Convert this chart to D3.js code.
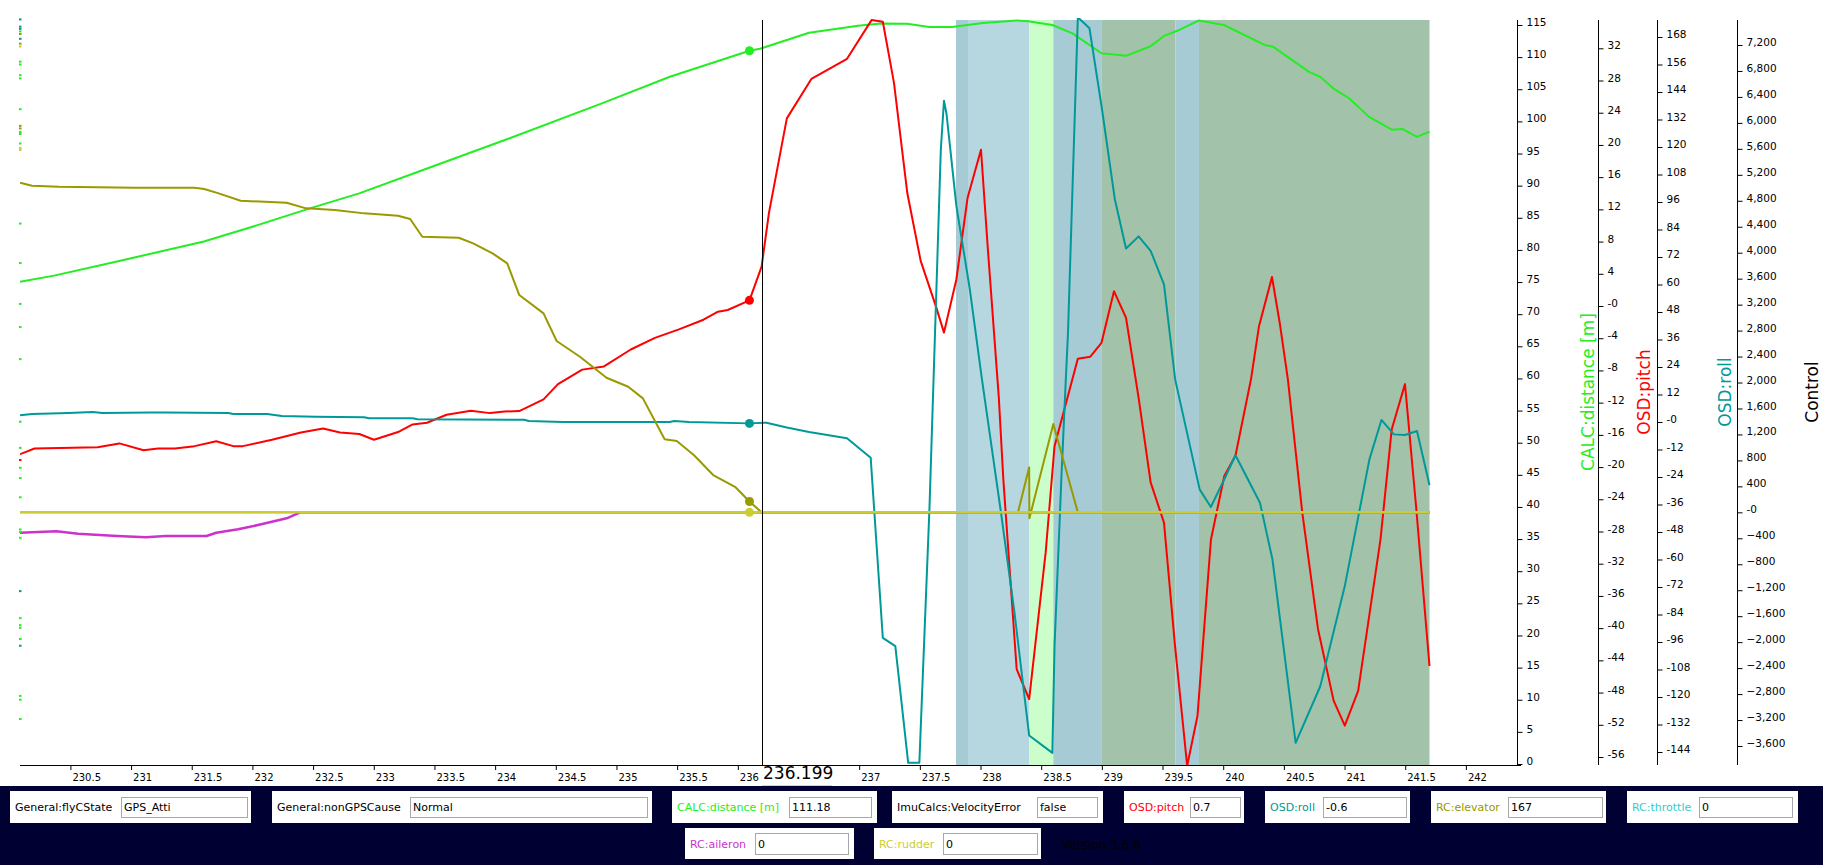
<!DOCTYPE html>
<html><head><meta charset="utf-8">
<script src="https://cdn.jsdelivr.net/npm/d3@7"></script>
<style>body{margin:0;background:#fff;overflow:hidden}svg{display:block}</style>
</head><body>
<svg id="c" width="1823" height="865"></svg>
<script>
// ---------------- DATA ----------------
const xTicks = [230.5,231,231.5,232,232.5,233,233.5,234,234.5,235,235.5,236,236.5,237,237.5,238,238.5,239,239.5,240,240.5,241,241.5,242];
const distTicks = [0,5,10,15,20,25,30,35,40,45,50,55,60,65,70,75,80,85,90,95,100,105,110,115];
const pitchTicks = [32,28,24,20,16,12,8,4,0,-4,-8,-12,-16,-20,-24,-28,-32,-36,-40,-44,-48,-52,-56];
const rollTicks = [168,156,144,132,120,108,96,84,72,60,48,36,24,12,0,-12,-24,-36,-48,-60,-72,-84,-96,-108,-120,-132,-144];
const ctrlTicks = [7200,6800,6400,6000,5600,5200,4800,4400,4000,3600,3200,2800,2400,2000,1600,1200,800,400,0,-400,-800,-1200,-1600,-2000,-2400,-2800,-3200,-3600];

const cursorTime = 236.199;
const sampleTime = 236.096;

// flight-state bands
const bandStart = [237.798,237.897,238.40,238.60,239.0,239.607,239.80];
const bandEnd   = [237.897,238.40,238.60,239.0,239.607,239.80,241.70];
const bandColor = ["#a6cbd5","#b6d7df","#ccfecc","#a6cbd5","#a2c3aa","#a6cbd5","#a2c3aa"];

// CALC:distance [m]
const distTime = [230.085,230.365,230.884,231.60,232.0,232.48,232.88,233.40,234.08,234.88,235.44,236.096,236.183,236.587,236.991,237.176,237.394,237.58,237.765,238.02,238.298,238.391,238.592,238.758,238.997,239.199,239.402,239.512,239.622,239.799,240.006,240.34,240.413,240.707,240.798,240.909,241.037,241.202,241.389,241.48,241.597,241.70];
const distValue = [75.05,76.0,78.2,81.3,83.6,86.5,88.8,92.4,97.1,102.8,106.95,111.0,111.3,113.8,114.9,115.25,115.2,114.7,114.7,115.3,115.7,115.6,115.0,113.7,110.6,110.2,111.7,113.3,114.1,115.7,115.0,111.9,111.6,107.7,106.95,105.1,103.6,100.7,98.7,98.8,97.6,98.4];

// OSD:pitch
const pitchTime = [230.085,230.204,230.724,230.904,231.103,231.222,231.362,231.523,231.702,231.842,231.922,232.161,232.40,232.582,232.722,232.881,233.002,233.20,233.32,233.439,233.60,233.80,233.958,234.079,234.199,234.399,234.518,234.718,234.897,235.118,235.317,235.515,235.717,235.837,235.917,236.096,236.196,236.257,236.404,236.606,236.735,236.90,237.102,237.195,237.287,237.397,237.507,237.636,237.699,237.801,237.893,238.004,238.059,238.151,238.188,238.298,238.401,238.537,238.61,238.802,238.905,238.997,239.10,239.199,239.303,239.402,239.512,239.603,239.703,239.788,239.899,240.009,240.101,240.229,240.295,240.402,240.468,240.533,240.652,240.781,240.91,241.002,241.112,241.296,241.389,241.498,241.589,241.70];
const pitchValue = [-18.4,-17.7,-17.55,-17.06,-17.9,-17.7,-17.7,-17.4,-16.8,-17.4,-17.4,-16.6,-15.7,-15.2,-15.7,-15.9,-16.6,-15.65,-14.7,-14.5,-13.5,-13.0,-13.3,-13.1,-13.05,-11.6,-9.7,-7.9,-7.5,-5.4,-3.95,-2.9,-1.7,-0.7,-0.5,0.7,4.9,11.6,23.3,28.2,29.3,30.7,35.5,35.3,27.7,14.0,5.6,-0.2,-3.3,3.3,13.4,19.4,7.4,-11.4,-21.5,-45.1,-48.8,-30.6,-17.4,-6.55,-6.3,-4.57,1.84,-1.46,-11.4,-21.9,-26.9,-42.2,-57.1,-50.9,-29.0,-21.1,-18.6,-9.1,-2.5,3.6,-2.3,-9.1,-25.7,-40.1,-49.0,-52.1,-47.8,-29.0,-15.3,-9.7,-24.8,-44.7];

// OSD:roll
const rollTime = [230.085,230.184,230.484,230.684,230.764,231.163,231.283,231.802,231.842,232.122,232.242,232.521,232.921,232.961,233.32,233.36,234.238,234.279,234.559,235.437,235.477,235.598,236.096,236.236,236.404,236.587,236.90,237.095,237.195,237.298,237.404,237.496,237.58,237.673,237.699,237.72,237.801,237.912,238.012,238.169,238.28,238.401,238.592,238.61,238.666,238.703,238.721,238.802,238.898,238.997,239.107,239.199,239.303,239.402,239.512,239.604,239.806,239.898,240.009,240.101,240.303,240.406,240.597,240.80,241.002,241.205,241.304,241.407,241.498,241.597,241.70];
const rollValue = [2.9,3.5,3.9,4.4,3.9,4.1,4.1,3.9,3.5,3.5,2.6,2.3,2.05,1.6,1.6,1.2,1.0,0.4,0,0,0.4,0,-0.6,-0.3,-2.4,-4.4,-7.1,-15.6,-94.2,-97.8,-148.7,-148.7,-36.7,119,140.2,134.4,94.3,57.9,18.6,-39.6,-83.2,-136.8,-144.4,-97.8,-25.0,18.6,39,176.6,171.8,138,97.2,75.7,81.0,74.7,60.1,18.6,-29.4,-37.1,-25.0,-14.5,-35.2,-60,-140,-115.3,-71.6,-16.3,0.9,-5.4,-5.7,-3.9,-27.6];

// RC:elevator
const elevTime = [230.085,230.184,230.404,231.043,231.523,231.603,231.722,231.903,232.282,232.442,232.68,232.921,233.20,233.30,233.40,233.70,233.819,233.979,234.10,234.199,234.399,234.507,234.699,234.918,235.097,235.218,235.397,235.497,235.637,235.797,235.977,236.096,236.196,238.309,238.401,238.403,238.60,238.802,241.70];
const elevValue = [5078,5032,5016,5001,5001,4981,4914,4800,4770,4683,4657,4606,4570,4519,4246,4231,4144,3990,3836,3348,3066,2639,2397,2074,1935,1756,1125,1098,883,575,394,167,0,0,693,-92,1360,0,0];

// RC:aileron
const aileronTime = [230.085,230.385,230.564,230.884,231.123,231.283,231.622,231.702,231.882,232.082,232.282,232.394,241.70];
const aileronValue = [-314,-293,-330,-365,-385,-365,-365,-314,-262,-180,-92,0,0];

// RC:rudder, RC:throttle
const rudderTime = [230.085,241.70];
const rudderValue = [0,0];
const throttleTime = [230.085,241.70];
const throttleValue = [0,0];

// small markers at the left edge (distance axis units)
const edgeMarkValues = [115.87,114.74,114.4,114.0,113.6,112.85,112.1,111.66,109.3,108.86,107.2,106.7,101.9,99.3,98.9,98.35,98.04,96.56,95.86,95.55,84.1,77.96,71.6,68.0,63.0,53.27,49.2,47.3,46.1,44.5,41.5,36.5,36.1,35.2,26.9,22.7,21.6,21.2,19.45,18.4,10.6,10.0,7.0];
const edgeMarkColors = ["t","t","t","g","o","t","o","y","g","g","g","g","g","o","o","g","g","g","y","y","g","g","g","g","g","g","g","r","g","g","g","g","g","g","t","g","g","g","g","t","g","g","g"];

// bottom panel
const panelLabels = ["General:flyCState","General:nonGPSCause","CALC:distance [m]","ImuCalcs:VelocityError","OSD:pitch","OSD:roll","RC:elevator","RC:throttle","RC:aileron","RC:rudder"];
const panelValues = ["GPS_Atti","Normal","111.18","false","0.7","-0.6","167","0","0","0"];
const versionText = "Version 3.6.6";

// ---------------- STYLE / LAYOUT ----------------
const C = {green:"#22ee22", red:"#ff0000", teal:"#009999", olive:"#999900", magenta:"#cc33cc", yellow:"#cccc33", cyan:"#33cccc"};
const markColor = {g:"#22ee22", t:"#009999", o:"#999900", y:"#cccc33", r:"#ff0000"};
const panelColors = ["#000","#000",C.green,"#000",C.red,C.teal,C.olive,C.cyan,C.magenta,C.yellow];
const panelLayout = [ // [boxX0, boxX1, inputX0, inputX1, row]
  [10,251,121,247,0],[272,652,410,647,0],[672,877,789,871,0],[892,1103,1037,1097,0],
  [1124,1244,1190,1240,0],[1265,1410,1323,1406,0],[1431,1606,1508,1602,0],[1627,1798,1699,1792,0],
  [685,854,755,848,1],[874,1041,943,1037,1]];
const rows = [{y0:791,y1:823,i0:797,i1:817},{y0:828,y1:859,i0:833,i1:854}];

const PT = 20, PB = 765, PL = 20, PR = 1517;
const FONT = "'DejaVu Sans', Verdana, sans-serif";
const CURSOR_BOX_W = 70;

const svg = d3.select("#c");
const x = d3.scaleLinear().domain([230.5, 242]).range([70.4, 1465.9]);
const yDist = d3.scaleLinear().domain([0, 115]).range([764, 25]);
const yPitch = d3.scaleLinear().domain([-56, 32]).range([757, 48.3]);
const yRoll = d3.scaleLinear().domain([-144, 168]).range([752, 37]);
const yCtrl = d3.scaleLinear().domain([-3600, 7200]).range([746, 45]);

svg.append("rect").attr("width",1823).attr("height",865).attr("fill","#fff");

// clip
svg.append("clipPath").attr("id","clip").append("rect")
  .attr("x",PL).attr("y",PT-2).attr("width",PR-PL).attr("height",PB-PT+3);

// bands
svg.append("g").selectAll("rect").data(bandStart).join("rect")
  .attr("x", d => x(d)).attr("width", (d,i) => x(bandEnd[i]) - x(d))
  .attr("y", PT).attr("height", PB - PT).attr("fill", (d,i) => bandColor[i]);

const plot = svg.append("g").attr("clip-path","url(#clip)");
function series(times, values, yS, color, w){
  const pts = times.map((t,i) => [t, values[i]]);
  plot.append("path").datum(pts).attr("fill","none").attr("stroke",color)
    .attr("stroke-width",w).attr("stroke-linejoin","round")
    .attr("d", d3.line().x(d => x(d[0])).y(d => yS(d[1])));
  return pts;
}
series(distTime, distValue, yDist, C.green, 2);
series(pitchTime, pitchValue, yPitch, C.red, 2);
series(rollTime, rollValue, yRoll, C.teal, 2);
series(throttleTime, throttleValue, yCtrl, C.cyan, 2);
series(aileronTime, aileronValue, yCtrl, C.magenta, 2.5);
series(elevTime, elevValue, yCtrl, C.olive, 2);
series(rudderTime, rudderValue, yCtrl, C.yellow, 2.5);

// sample dots
const dots = [[distTime,distValue,yDist,C.green],[pitchTime,pitchValue,yPitch,C.red],[rollTime,rollValue,yRoll,C.teal],[elevTime,elevValue,yCtrl,C.olive],[rudderTime,rudderValue,yCtrl,C.yellow]];
dots.forEach(([t,v,yS,col]) => {
  const idx = t.indexOf(sampleTime);
  const val = idx >= 0 ? v[idx] : v[0];
  plot.append("circle").attr("cx", x(sampleTime)).attr("cy", yS(val)).attr("r",4.5).attr("fill",col);
});

// edge marks
svg.append("g").selectAll("rect").data(edgeMarkValues).join("rect")
  .attr("x",19).attr("y", d => yDist(d) - 1).attr("width",2.5).attr("height",2)
  .attr("fill", (d,i) => markColor[edgeMarkColors[i]]);

// crosshair
const cx = Math.round(x(cursorTime));
svg.append("line").attr("x1", cx+0.5).attr("x2", cx+0.5)
  .attr("y1", PT).attr("y2", PB).attr("stroke","#000").attr("stroke-width",1);

// x axis
const xa = svg.append("g").attr("transform",`translate(0,${PB})`)
  .call(d3.axisBottom(x).tickValues(xTicks).tickSize(5).tickFormat(d => String(d)));
xa.select(".domain").remove();
xa.attr("font-family",FONT).attr("font-size",10).attr("color","#000");
xa.selectAll(".tick text").attr("text-anchor","start").attr("x",1.5).attr("y",16).attr("dy",0).attr("fill","#000");
// labels hidden behind the cursor value box are not drawn
xa.selectAll(".tick").filter(d => x(d) > cx && x(d) < cx + CURSOR_BOX_W).remove();
svg.append("line").attr("x1",PL).attr("x2",PR+4).attr("y1",PB+0.5).attr("y2",PB+0.5).attr("stroke","#000");

// right axes
function negZero(f){ return d => d === 0 ? "-0" : f(d); }
function rAxis(scale, ticks, xp, fmt){
  const a = svg.append("g").attr("transform",`translate(${xp},0)`)
    .call(d3.axisRight(scale).tickValues(ticks).tickSize(5).tickFormat(fmt));
  a.select(".domain").remove();
  a.attr("font-family",FONT).attr("font-size",10.5).attr("color","#000");
  a.selectAll(".tick text").attr("x",9).attr("dy","0.05em").attr("fill","#000");
  a.append("line").attr("x1",0).attr("x2",0).attr("y1",PT).attr("y2",PB).attr("stroke","#000");
}
rAxis(yDist, distTicks, 1517.5, d => String(d));
rAxis(yPitch, pitchTicks, 1598.5, negZero(d => String(d)));
rAxis(yRoll, rollTicks, 1657.5, negZero(d => String(d)));
rAxis(yCtrl, ctrlTicks, 1737.5, negZero(d3.format(",")));

// axis titles
const titles = [["CALC:distance [m]",1594,C.green],["OSD:pitch",1650,C.red],["OSD:roll",1731,C.teal],["Control",1818,"#000"]];
titles.forEach(([t,xp,col]) => {
  svg.append("text").attr("transform",`translate(${xp},392) rotate(-90)`)
    .attr("text-anchor","middle").attr("font-family",FONT).attr("font-size",17)
    .attr("fill",col).text(t);
});

// cursor value box
svg.append("rect").attr("x",cx).attr("y",PB+1).attr("width",CURSOR_BOX_W).attr("height",20).attr("fill","#fff");
svg.append("line").attr("x1",cx).attr("x2",cx+CURSOR_BOX_W).attr("y1",PB+20.5).attr("y2",PB+20.5).attr("stroke","#c8d4f0");
svg.append("text").attr("x",cx+1).attr("y",779).attr("font-family",FONT).attr("font-size",17)
  .attr("fill","#000").text(String(cursorTime));

// bottom panel
svg.append("rect").attr("x",0).attr("y",786).attr("width",1823).attr("height",79).attr("fill","#000033");
const pg = svg.append("g").attr("font-family",FONT).attr("font-size",11);
panelLabels.forEach((lab,i) => {
  const [b0,b1,i0,i1,r] = panelLayout[i];
  const R = rows[r];
  pg.append("rect").attr("x",b0).attr("y",R.y0).attr("width",b1-b0).attr("height",R.y1-R.y0).attr("fill","#fff");
  pg.append("rect").attr("x",i0+0.5).attr("y",R.i0+0.5).attr("width",i1-i0).attr("height",R.i1-R.i0)
    .attr("fill","#fff").attr("stroke","#a8a8a8");
  const cy = (R.i0+R.i1)/2 + 4;
  pg.append("text").attr("x",b0+5).attr("y",cy).attr("fill",panelColors[i]).text(lab);
  pg.append("text").attr("x",i0+3).attr("y",cy).attr("fill","#000").text(panelValues[i]);
});
pg.append("text").attr("x",1062).attr("y",849).attr("fill","#000").attr("font-size",12).text(versionText);
</script>
</body></html>
